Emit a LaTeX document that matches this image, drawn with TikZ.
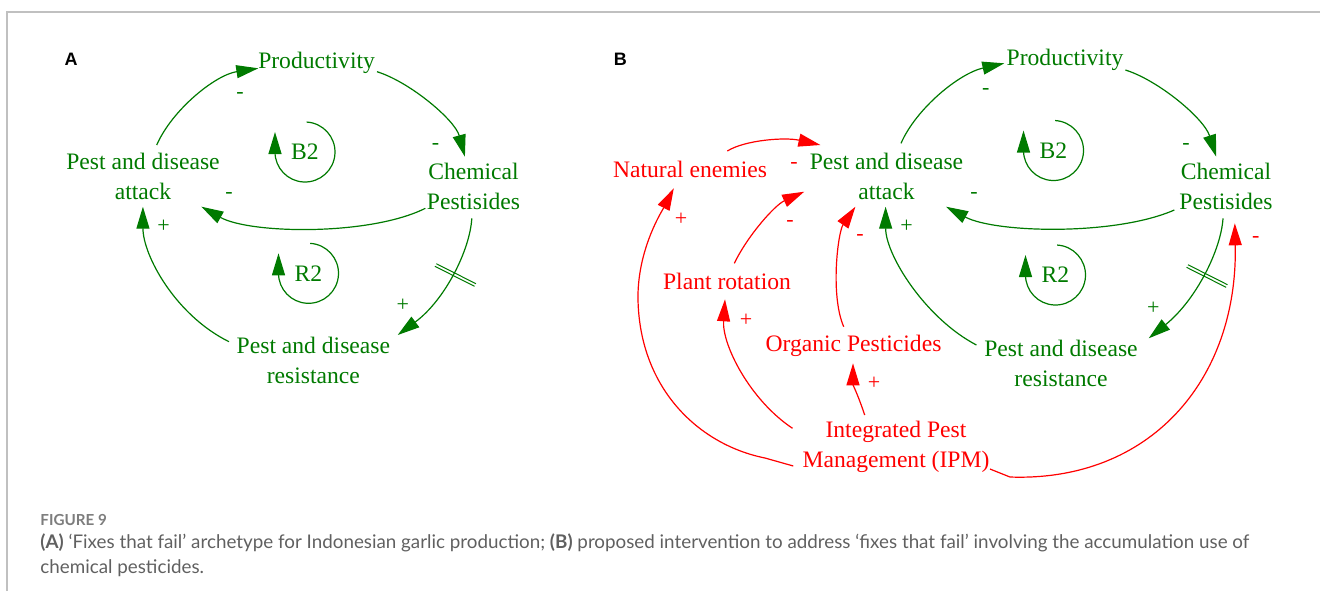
\documentclass[tikz,border=0pt]{standalone}
\usepackage{fontspec}
\setmainfont{Liberation Serif}
\newfontfamily\capfont{Lato}
\newfontfamily\panelfont{Liberation Sans}
\usetikzlibrary{arrows.meta,calc}

\definecolor{cldgreen}{RGB}{0,122,0}
\definecolor{cldred}{RGB}{255,0,0}
\definecolor{framegray}{RGB}{192,192,192}
\definecolor{capgray}{RGB}{96,96,96}
\definecolor{figgray}{RGB}{125,125,125}

\tikzset{
  var/.style={inner sep=0pt, align=center, font=\fontsize{11.8}{15}\selectfont},
  gvar/.style={var, text=cldgreen},
  rvar/.style={var, text=cldred},
  link/.style={line width=0.6pt, -{Triangle[length=11pt,width=6.5pt]}},
  glink/.style={link, draw=cldgreen},
  rlink/.style={link, draw=cldred},
  pol/.style={inner sep=0pt, font=\fontsize{11}{12}\selectfont},
  gpol/.style={pol, text=cldgreen},
  rpol/.style={pol, text=cldred},
  delaybar/.style={draw=cldgreen, line width=0.5pt},
  panel/.style={inner sep=0pt, anchor=base, font=\panelfont\bfseries\fontsize{9}{10}\selectfont},
  caption/.style={inner sep=0pt, anchor=base west, text=capgray, font=\capfont\fontsize{9.4}{11}\selectfont},
  cloop/.pic={
    \draw[line width=0.6pt, -{Triangle[length=11pt,width=6.5pt]}]
      (-87:30) arc[start angle=-87, end angle=180, radius=30] -- ++(0,-20);
  },
}

\begin{document}
\begin{tikzpicture}[x=0.5pt, y=-0.5pt]
\useasboundingbox (0,0) rectangle (1320,591);

% page frame
\draw[framegray, line width=1pt] (7,591) -- (7,12) -- (1320,12);

% ---------------- Panel A ----------------
\node[panel] (labA) at (71,65) {A};

\node[gvar] (prodA) at (316.6,63)    {Productivity};
\node[gvar] (chemA) at (473.5,186.7) {Chemical\\Pestisides};
\node[gvar] (attA)  at (143,176.7)   {Pest and disease\\attack};
\node[gvar] (resA)  at (313.4,360)   {Pest and disease\\resistance};

\node[gvar] (bA) at (305,152)   {B2};
\node[gvar] (rA) at (308.5,273.3) {R2};
\pic[cldgreen] at (305,152) {cloop};
\pic[cldgreen] at (308.5,273.3) {cloop};

\draw[glink] ($(attA)+(13.7,-31.7)$) .. controls (172,110) and (215,75) .. ($(prodA)+(-58.3,5.3)$);
\draw[glink] ($(prodA)+(60.4,8.7)$) .. controls (410,82) and (455,120) .. ($(chemA)+(-8.6,-30)$);
\draw[glink] ($(chemA)+(-48.2,21.6)$) .. controls (370,236) and (250,234) .. ($(attA)+(58.4,30)$);
\draw[glink] ($(chemA)+(-1.7,31.6)$) .. controls (470,250) and (445,300) .. ($(resA)+(84.3,-25)$);
\draw[glink] ($(resA)+(-84.4,-18.3)$) .. controls (175,315) and (143,255) .. ($(attA)+(-0.1,30)$);

% delay mark
\coordinate (dA) at (455.4,275);
\draw[delaybar] ($(dA)+(-20.5,-8.7)$) -- ($(dA)+(19.1,11.3)$);
\draw[delaybar] ($(dA)+(-19.1,-11.3)$) -- ($(dA)+(20.5,8.7)$);

\node[gpol] (pA1) at (240,95)      {-};
\node[gpol] (pA2) at (435.6,146.7) {-};
\node[gpol] (pA3) at (229,195)     {-};
\node[gpol] (pA4) at (402.9,305)   {+};
\node[gpol] (pA5) at (163.6,226.7) {+};

% ---------------- Panel B ----------------
\node[panel] (labB) at (620.3,65) {B};

\node[gvar] (prodB) at (1065,60)     {Productivity};
\node[gvar] (chemB) at (1226,186.5)  {Chemical\\Pestisides};
\node[gvar] (attB)  at (886.5,176)   {Pest and disease\\attack};
\node[gvar] (resB)  at (1061,363.3)  {Pest and disease\\resistance};
\node[rvar] (ne)    at (690,169)     {Natural enemies};
\node[rvar] (pr)    at (727,281.7)   {Plant rotation};
\node[rvar] (op)    at (853.5,345.5) {Organic Pesticides};
\node[rvar] (ipm)   at (896,446.7)   {Integrated Pest\\Management (IPM)};

\node[gvar] (bB) at (1053.5,150.5) {B2};
\node[gvar] (rB) at (1055.5,275)   {R2};
\pic[cldgreen] at (1053.5,150.5) {cloop};
\pic[cldgreen] at (1055.5,275) {cloop};

\draw[glink] ($(attB)+(14.5,-32.7)$) .. controls (916.3,108.3) and (959.3,73.3) .. ($(prodB)+(-60.7,3.3)$);
\draw[glink] ($(prodB)+(60.4,10)$) .. controls (1158.4,80.3) and (1204,118.3) .. ($(chemB)+(-9.8,-29.8)$);
\draw[glink] ($(chemB)+(-51.7,23.5)$) .. controls (1115,236) and (995,233) .. ($(attB)+(59.6,30.7)$);
\draw[glink] ($(chemB)+(-3,31.8)$) .. controls (1221,250) and (1196,300) .. ($(resB)+(87.7,-25)$);
\draw[glink] ($(resB)+(-84.6,-18.3)$) .. controls (925,318) and (885.7,255) .. ($(attB)+(-0.9,30.7)$);

\coordinate (dB) at (1207,276);
\draw[delaybar] ($(dB)+(-20.5,-8.7)$) -- ($(dB)+(19.1,11.3)$);
\draw[delaybar] ($(dB)+(-19.1,-11.3)$) -- ($(dB)+(20.5,8.7)$);

\draw[rlink] ($(ne)+(37.3,-18)$) .. controls (745,140) and (785,137) .. ($(attB)+(-66.1,-31)$);
\draw[rlink] ($(pr)+(7.3,-18.4)$) .. controls (748,235) and (775,205) .. ($(attB)+(-82.3,15.7)$);
\draw[rlink] ($(op)+(-9.8,-18.8)$) .. controls (830,295) and (838,232) .. ($(attB)+(-31.1,30.7)$);
\draw[rlink] ($(ipm)+(-102.7,19.3)$) -- (765,458)
   .. controls (700,445) and (640,390) .. (638,300)
   .. controls (637,250) and (662,211) .. ($(ne)+(-16.2,19.3)$);
\draw[rlink] ($(ipm)+(-103.5,-18.4)$) .. controls (750,400) and (722,345) .. ($(pr)+(-2,17.6)$);
\draw[rlink] ($(ipm)+(-31.3,-31.7)$) .. controls (858,395) and (853,385) .. ($(op)+(-0.5,17.8)$);
\draw[rlink] ($(ipm)+(94,22.3)$) -- (1010,477)
   .. controls (1150,482) and (1238,380) .. ($(chemB)+(8.8,36.8)$);

\node[gpol] (pB1) at (985.7,91.7)   {-};
\node[gpol] (pB2) at (1185.9,146.7) {-};
\node[gpol] (pB3) at (974,195)      {-};
\node[gpol] (pB4) at (1153.3,308.3) {+};
\node[gpol] (pB5) at (906.6,226.7)  {+};
\node[rpol] (pB6) at (793.9,165)    {-};
\node[rpol] (pB7) at (790,223)      {-};
\node[rpol] (pB8) at (860,237.3)    {-};
\node[rpol] (pB9) at (681,219.3)    {+};
\node[rpol] (pB10) at (746,320)     {+};
\node[rpol] (pB11) at (874,383.3)   {+};
\node[rpol] (pB12) at (1255.7,239.3) {-};

% ---------------- Caption ----------------
\node[caption, text=figgray, font=\capfont\bfseries\fontsize{7.6}{9}\selectfont] (fig) at (40,525) {FIGURE 9};
\node[caption] (cap1) at (40,548) {\textbf{(A)} ‘Fixes that fail’ archetype for Indonesian garlic production; \textbf{(B)} proposed intervention to address ‘fixes that fail’ involving the accumulation use of};
\node[caption] (cap2) at (40,573) {chemical pesticides.};
\end{tikzpicture}
\end{document}
